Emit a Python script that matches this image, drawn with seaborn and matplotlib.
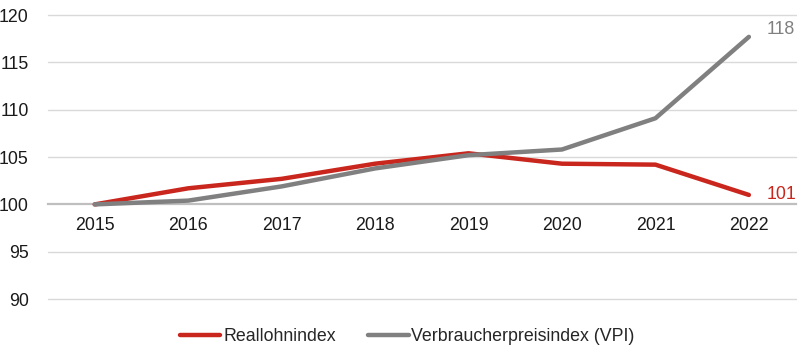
import matplotlib
matplotlib.use("Agg")
import matplotlib.pyplot as plt
import seaborn as sns
import pandas as pd

years = ["2015", "2016", "2017", "2018", "2019", "2020", "2021", "2022"]
reallohn = [100.0, 101.7, 102.7, 104.3, 105.4, 104.3, 104.2, 101.0]
vpi = [100.0, 100.4, 101.9, 103.8, 105.2, 105.8, 109.1, 117.7]
series_names = ["Reallohnindex", "Verbraucherpreisindex (VPI)"]
end_labels = ["101", "118"]
yticks = [90, 95, 100, 105, 110, 115, 120]

RED = "#c9261d"
GRAY = "#808080"
FS = 12.8

sns.set_theme(style="white")
plt.rcParams["font.family"] = ["Liberation Sans", "DejaVu Sans"]

df = pd.DataFrame({
    "Jahr": years * 2,
    "Wert": reallohn + vpi,
    "Serie": [series_names[0]] * len(years) + [series_names[1]] * len(years),
})

fig = plt.figure(figsize=(8.03, 3.51), dpi=100)
ax = fig.add_axes([0.0598, 0.148, 0.931, 0.809])

for y in yticks:
    if y != 100:
        ax.axhline(y, color="#d9d9d9", lw=1.0, zorder=0, clip_on=False)

sns.lineplot(data=df, x="Jahr", y="Wert", hue="Serie",
             palette=[RED, GRAY], linewidth=3.2, ax=ax, sort=False,
             legend=True)

ax.set_xlim(-0.5, 7.5)
ax.set_ylim(90, 120)
ax.set_yticks(yticks)
ax.set_xlabel("")
ax.set_ylabel("")

for s in ["top", "right", "left"]:
    ax.spines[s].set_visible(False)
ax.spines["bottom"].set_position(("data", 100))
ax.spines["bottom"].set_color("#bfbfbf")
ax.spines["bottom"].set_linewidth(1.6)
ax.spines["bottom"].set_zorder(0.5)

ax.tick_params(axis="x", length=0, pad=9, labelsize=FS, colors="#1a1a1a")
ax.tick_params(axis="y", length=0, pad=14, labelsize=FS, colors="#1a1a1a")

ax.annotate(end_labels[0], (7, reallohn[-1]), xytext=(13, 0),
            textcoords="offset points", color=RED, fontsize=FS,
            va="center", ha="left")
ax.annotate(end_labels[1], (7, vpi[-1]), xytext=(13, 5),
            textcoords="offset points", color=GRAY, fontsize=FS,
            va="center", ha="left")

handles, labels = ax.get_legend_handles_labels()
ax.legend(handles, labels, loc="center", ncol=2, frameon=False,
          fontsize=FS, handlelength=2.3, handletextpad=0.15,
          columnspacing=1.8)
ax.get_legend().set_bbox_to_anchor((0.507, 0.04), transform=fig.transFigure)

fig.savefig("out.png", dpi=100)
